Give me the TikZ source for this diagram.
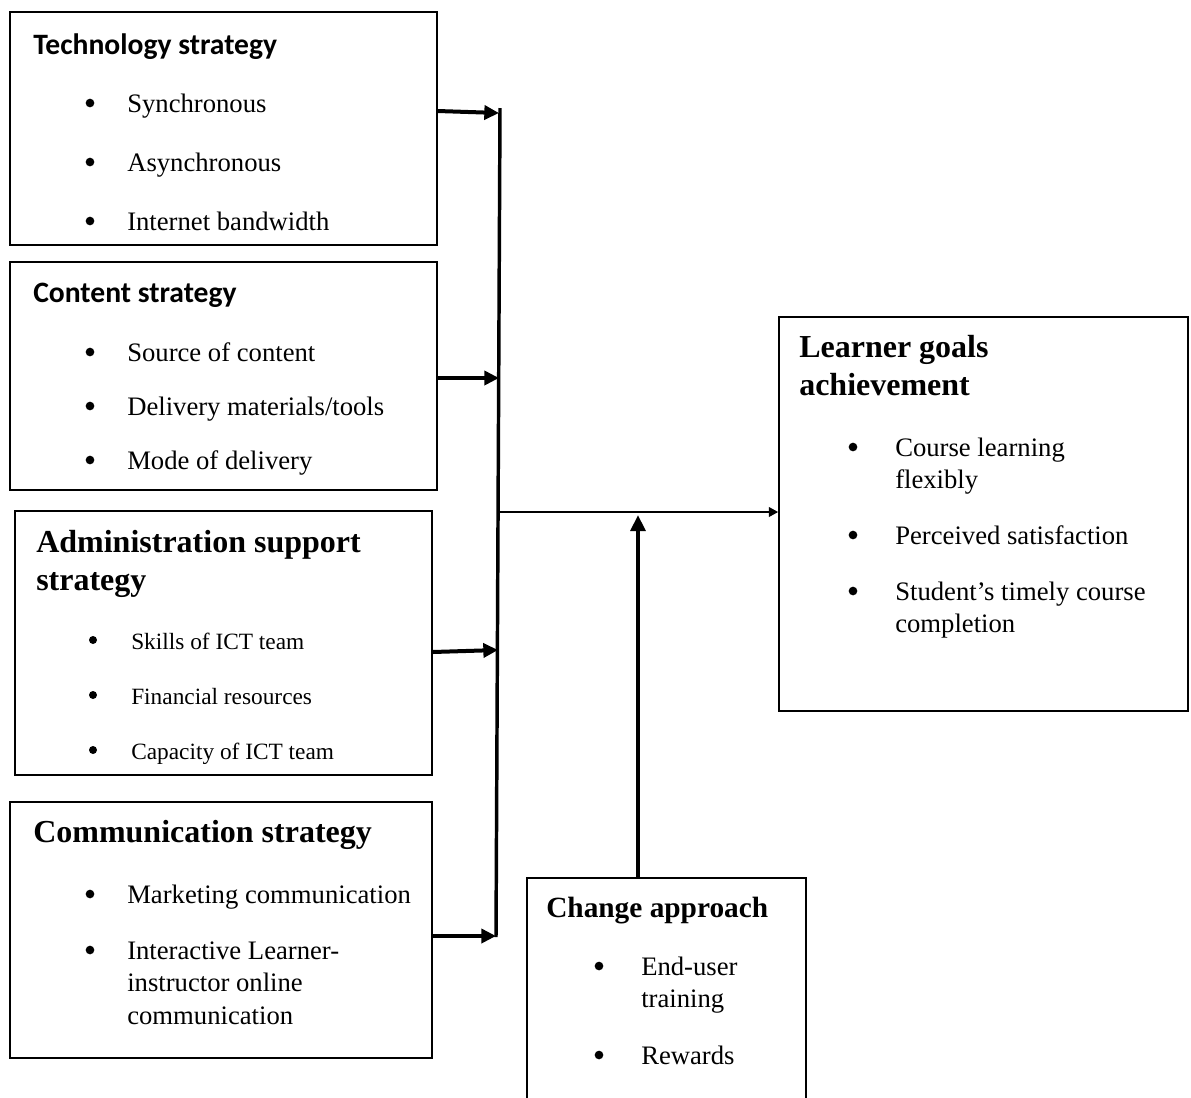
\documentclass[tikz,border=0pt]{standalone}
\usepackage{fontspec}
\setmainfont{Liberation Serif}
\newfontfamily\calib{Carlito}
\usetikzlibrary{arrows.meta,fit}
\begin{document}
\begin{tikzpicture}[x=0.75pt,y=-0.75pt,
  box/.style={draw,line width=1.1pt,inner sep=0pt},
  tbase/.style={anchor=mid west,inner sep=0pt,yshift=-4.5pt},
  txt/.style={tbase,font=\fontsize{20}{24}\selectfont},
  stxt/.style={tbase,font=\fontsize{17.5}{21}\selectfont},
  bul/.style={circle,fill,inner sep=0pt,minimum size=6.5pt},
  sbul/.style={circle,fill,inner sep=0pt,minimum size=6pt},
  hsans/.style={tbase,font=\calib\bfseries\fontsize{22.2}{26}\selectfont},
  hser/.style={tbase,font=\bfseries\fontsize{24}{29}\selectfont},
  arr/.style={line width=3pt,-{Triangle[length=11pt,width=10.5pt]}},
  vline/.style={line width=2.6pt}]
\clip (0,0) rectangle (1191,1097);
\fill[white] (0,0) rectangle (1191,1097);
% boxes
\node[box,fit={(10,12) (437,245)}] (tech) {};
\node[box,fit={(10,262) (437,490)}] (cont) {};
\node[box,fit={(15,511) (432,775)}] (admin) {};
\node[box,fit={(10,802) (432,1058)}] (comm) {};
\node[box,fit={(779,317) (1188,711)}] (learn) {};
\node[box,fit={(527,878) (806,1110)}] (chg) {};
% technology
\node[hsans] (th) at (33,45) {Technology strategy};
\node[bul] (tb1) at (90,103) {}; \node[txt] (t1) at (127,103) {Synchronous};
\node[bul] (tb2) at (90,162) {}; \node[txt] (t2) at (127,162) {Asynchronous};
\node[bul] (tb3) at (90,221) {}; \node[txt] (t3) at (127,221) {Internet bandwidth};
% content
\node[hsans] (ch) at (33,293) {Content strategy};
\node[bul] (cb1) at (90,352) {}; \node[txt] (c1) at (127,352) {Source of content};
\node[bul] (cb2) at (90,406) {}; \node[txt] (c2) at (127,406) {Delivery materials/tools};
\node[bul] (cb3) at (90,460) {}; \node[txt] (c3) at (127,460) {Mode of delivery};
% admin
\node[hser] (ah1) at (36,543) {Administration support};
\node[hser] (ah2) at (36,581) {strategy};
\node[sbul] (ab1) at (93,640) {}; \node[stxt] (a1) at (131,640) {Skills of ICT team};
\node[sbul] (ab2) at (93,695) {}; \node[stxt] (a2) at (131,695) {Financial resources};
\node[sbul] (ab3) at (93,750) {}; \node[stxt] (a3) at (131,750) {Capacity of ICT team};
% communication
\node[hser] (mh) at (33,833) {Communication strategy};
\node[bul] (mb1) at (90,894) {}; \node[txt] (m1) at (127,894) {Marketing communication};
\node[bul] (mb2) at (90,950) {}; \node[txt] (m2) at (127,950) {Interactive Learner-};
\node[txt] (m3) at (127,982) {instructor online};
\node[txt] (m4) at (127,1015) {communication};
% learner
\node[hser] (lh1) at (799,348) {Learner goals};
\node[hser] (lh2) at (799,386) {achievement};
\node[bul] (lb1) at (853,447) {}; \node[txt] (l1) at (895,447) {Course learning};
\node[txt] (l1b) at (895,479) {flexibly};
\node[bul] (lb2) at (853,535) {}; \node[txt] (l2) at (895,535) {Perceived satisfaction};
\node[bul] (lb3) at (853,591) {}; \node[txt] (l3) at (895,591) {Student’s timely course};
\node[txt] (l3b) at (895,623) {completion};
% change
\node[tbase,font=\bfseries\fontsize{22}{26}\selectfont] (gh) at (546,908) {Change approach};
\node[bul] (gb1) at (599,966) {}; \node[txt] (g1) at (641,966) {End-user};
\node[txt] (g1b) at (641,998) {training};
\node[bul] (gb2) at (599,1055) {}; \node[txt] (g2) at (641,1055) {Rewards};
% connectors
\coordinate (vtop) at (500,108);
\coordinate (vbot) at (496,937);
\coordinate (j1) at (499,113);
\coordinate (j2) at (499,378);
\coordinate (j3) at (498,650);
\coordinate (j4) at (496,936);
\coordinate (jm) at (497,512);
\coordinate (up) at (638,515);
\draw[vline] (vtop) -- (vbot);
\draw[arr] (tech.east |- 0,111) -- (j1);
\draw[arr] (cont.east |- 0,378) -- (j2);
\draw[arr] (admin.east |- 0,652) -- (j3);
\draw[arr] (comm.east |- 0,936) -- (j4);
\draw[line width=2.2pt,-{Triangle[length=7pt,width=7pt]}] (jm) -- (learn.west |- jm);
\draw[arr,-{Triangle[length=12pt,width=11pt]}] (chg.north -| up) -- (up);
\end{tikzpicture}
\end{document}
